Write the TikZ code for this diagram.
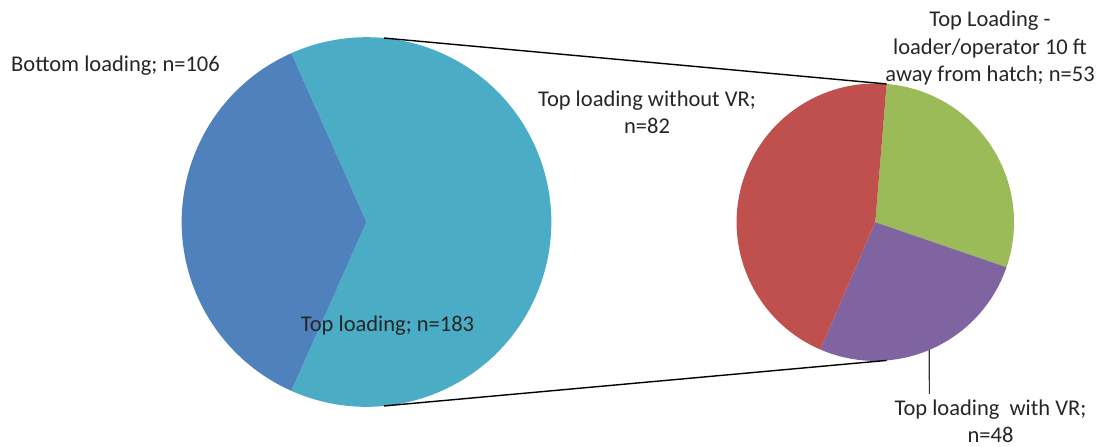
\documentclass[tikz,border=0pt]{standalone}
\usepackage{fontspec}
\setmainfont{Carlito}
\usetikzlibrary{calc}
\definecolor{sliceblue}{HTML}{4F81BD}
\definecolor{sliceteal}{HTML}{4BACC6}
\definecolor{slicered}{HTML}{C0504D}
\definecolor{slicegreen}{HTML}{9BBB59}
\definecolor{slicepurple}{HTML}{8064A2}
\tikzset{
  lbl/.style={inner sep=0pt, font=\fontsize{22.5}{27.5}\selectfont, text=black!85},
  zoomline/.style={draw=black, line width=1.4pt},
  leader/.style={draw=black!80, line width=1.1pt},
}
\begin{document}
\begin{tikzpicture}[x=1pt,y=1pt]
\useasboundingbox (0,0) rectangle (1109,447);

% main pie: bottom vs. top loading
\coordinate (big) at (366.5,225);
\def\rbig{184.8}
\fill[sliceteal] (big) -- ++(-114:\rbig) arc[start angle=-114, end angle=114, radius=\rbig] -- cycle;
\fill[sliceblue] (big) -- ++(114:\rbig) arc[start angle=114, end angle=246, radius=\rbig] -- cycle;

% breakdown pie of top loading
\coordinate (small) at (875.3,224.8);
\def\rsmall{138.7}
\fill[slicegreen] (small) -- ++(85.3:\rsmall) arc[start angle=85.3, end angle=-18.96, radius=\rsmall] -- cycle;
\fill[slicepurple] (small) -- ++(-18.96:\rsmall) arc[start angle=-18.96, end angle=-113.39, radius=\rsmall] -- cycle;
\fill[slicered] (small) -- ++(-113.39:\rsmall) arc[start angle=-113.39, end angle=-274.7, radius=\rsmall] -- cycle;

% connectors between the two pies
\coordinate (bigtop) at ($(big)+(84.57:\rbig)$);
\coordinate (bigbot) at ($(big)+(-84.57:\rbig)$);
\coordinate (smalltop) at ($(small)+(85.3:\rsmall)$);
\coordinate (smallbot) at ($(small)+(-85.3:\rsmall)$);
\draw[zoomline] (bigtop) -- (smalltop);
\draw[zoomline] (bigbot) -- (smallbot);

% labels (base anchor of a multi-line node sits on its last line)
\node[lbl, anchor=base west] (lbottom) at (11,375.3) {Bottom loading; n=106};
\node[lbl, anchor=base west] (ltop) at (300.7,115) {Top loading; n=183};
\node[lbl, anchor=base, align=center] (lnovr) at (647,313) {Top loading without VR;\\n=82};
\node[lbl, anchor=base, align=center] (lfar) at (990,365.3) {Top Loading -\\loader/operator 10 ft\\away from hatch; n=53};
\node[lbl, anchor=base, align=center] (lvr) at (990.5,4) {Top loading\ \ with VR;\\n=48};

% leader from the purple slice to its label
\coordinate (vredge) at ($(small)+(-67.1:\rsmall)$);
\coordinate (vrend) at (929.3,53);
\draw[leader] (vredge) -- (vrend);
\end{tikzpicture}
\end{document}
